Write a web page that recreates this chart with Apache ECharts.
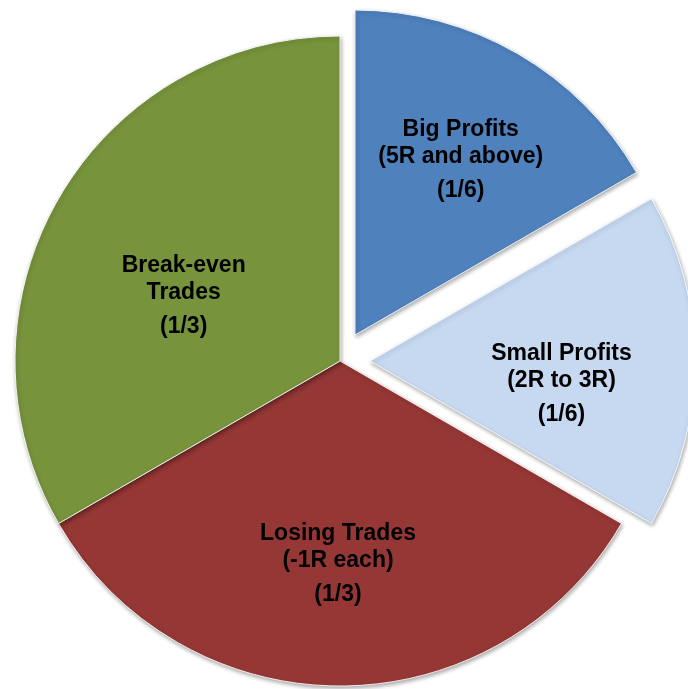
<!DOCTYPE html>
<html>
<head>
<meta charset="utf-8">
<script src="https://cdn.jsdelivr.net/npm/echarts@6/dist/echarts.min.js"></script>
<style>html,body{margin:0;padding:0;background:#fff;}#c{width:688px;height:689px;}</style>
</head>
<body>
<div id="c"></div>
<script>
const categories = ['Big Profits', 'Small Profits', 'Losing Trades', 'Break-even Trades'];
const nameLines = [['Big Profits', '(5R and above)'], ['Small Profits', '(2R to 3R)'], ['Losing Trades', '(-1R each)'], ['Break-even', 'Trades']];
const fractionLabels = ['(1/6)', '(1/6)', '(1/3)', '(1/3)'];
const values = [1, 1, 2, 2];
const exploded = [true, true, false, false];
const colors = ['#4F81BD', '#C6D9F1', '#953735', '#77933C'];
const labelShift = [[23, -28], [26, 27], [-2, 41], [-13, 21]];

const chart = echarts.init(document.getElementById('c'), null, {renderer: 'canvas'});
const data = categories.map((c, i) => ({
  name: c,
  value: values[i],
  selected: exploded[i],
  itemStyle: {color: colors[i]},
  label: {
    formatter: '{n|' + nameLines[i][0] + '}\n{n|' + nameLines[i][1] + '}\n{f|' + fractionLabels[i] + '}'
  }
}));
const font = 'Liberation Sans, Arial, sans-serif';
chart.setOption({
  animation: false,
  series: [{
    type: 'pie',
    center: [340, 361],
    radius: [0, 325],
    startAngle: 90,
    clockwise: true,
    selectedMode: 'multiple',
    selectedOffset: 30,
    avoidLabelOverlap: false,
    emphasis: {disabled: true},
    itemStyle: {
      borderColor: 'rgba(255,255,255,0.85)',
      borderWidth: 1,
      shadowBlur: 4,
      shadowColor: 'rgba(0,0,0,0.35)',
      shadowOffsetX: 1,
      shadowOffsetY: 2
    },
    label: {
      show: true,
      position: 'inside',
      color: '#000',
      fontFamily: font,
      fontWeight: 'bold',
      fontSize: 23,
      align: 'center',
      rich: {
        n: {fontFamily: font, fontWeight: 'bold', fontSize: 23, color: '#000', lineHeight: 27},
        f: {fontFamily: font, fontWeight: 'bold', fontSize: 23, color: '#000', lineHeight: 41}
      }
    },
    labelLayout: function (params) {
      const s = labelShift[params.dataIndex];
      return {dx: s[0], dy: s[1]};
    },
    labelLine: {show: false},
    data: data
  }]
});
</script>
</body>
</html>
